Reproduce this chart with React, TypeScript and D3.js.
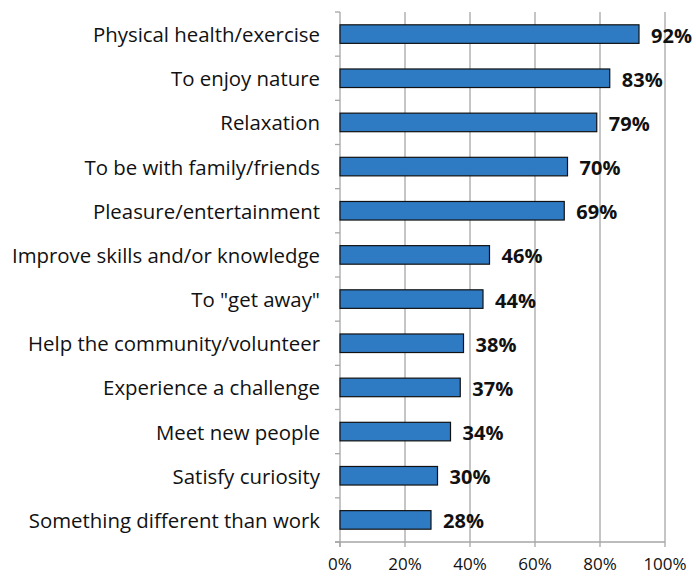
import React from "react";
import * as d3 from "d3";

const categories = [
  "Physical health/exercise",
  "To enjoy nature",
  "Relaxation",
  "To be with family/friends",
  "Pleasure/entertainment",
  "Improve skills and/or knowledge",
  "To \"get away\"",
  "Help the community/volunteer",
  "Experience a challenge",
  "Meet new people",
  "Satisfy curiosity",
  "Something different than work",
];
const values = [92, 83, 79, 70, 69, 46, 44, 38, 37, 34, 30, 28];
const tickValues = [0, 20, 40, 60, 80, 100];

const W = 696;
const H = 579;
const left = 340;
const right = 665;
const top = 12;
const bottom = 542;
const font = "'Open Sans', sans-serif";

export default function App() {
  const x = d3.scaleLinear().domain([0, 100]).range([left, right]);
  const y = d3.scaleBand<string>().domain(categories).range([top, bottom]).paddingInner(0.58).paddingOuter(0.29);
  const step = (bottom - top) / categories.length;
  const grid = "#a6a6a6";
  return (
    <svg width={W} height={H} style={{ position: "absolute", left: 0, top: 0 }}>
      <rect width={W} height={H} fill="#fff" />
      {tickValues.slice(1).map((t) => (
        <line key={"g" + t} x1={x(t)} x2={x(t)} y1={top} y2={bottom} stroke={grid} strokeWidth={1.3} />
      ))}
      <line x1={left} x2={left} y1={top} y2={bottom + 5} stroke={grid} strokeWidth={1.3} />
      <line x1={left - 5} x2={right} y1={bottom} y2={bottom} stroke={grid} strokeWidth={1.3} />
      {d3.range(categories.length + 1).map((i) => (
        <line key={"yt" + i} x1={left - 5} x2={left} y1={top + i * step} y2={top + i * step} stroke={grid} strokeWidth={1.3} />
      ))}
      {tickValues.map((t) => (
        <line key={"xt" + t} x1={x(t)} x2={x(t)} y1={bottom} y2={bottom + 5} stroke={grid} strokeWidth={1.3} />
      ))}
      {categories.map((c, i) => (
        <g key={c}>
          <rect
            x={x(0)}
            y={y(c)!}
            width={x(values[i]) - x(0)}
            height={y.bandwidth()}
            fill="#2e7bc4"
            stroke="#111"
            strokeWidth={1.2}
          />
          <text
            x={left - 20}
            y={y(c)! + y.bandwidth() / 2}
            textAnchor="end"
            dominantBaseline="central"
            fontFamily={font}
            fontSize={20.4}
            fill="#111"
          >
            {c}
          </text>
          <text
            x={x(values[i]) + 12}
            y={y(c)! + y.bandwidth() / 2 + 1}
            dominantBaseline="central"
            fontFamily={font}
            fontSize={20}
            fontWeight="bold"
            fill="#111"
          >
            {values[i]}%
          </text>
        </g>
      ))}
      {tickValues.map((t) => (
        <text key={"tl" + t} x={x(t)} y={570} textAnchor="middle" fontFamily={font} fontSize={17} fill="#111">
          {t}%
        </text>
      ))}
    </svg>
  );
}
